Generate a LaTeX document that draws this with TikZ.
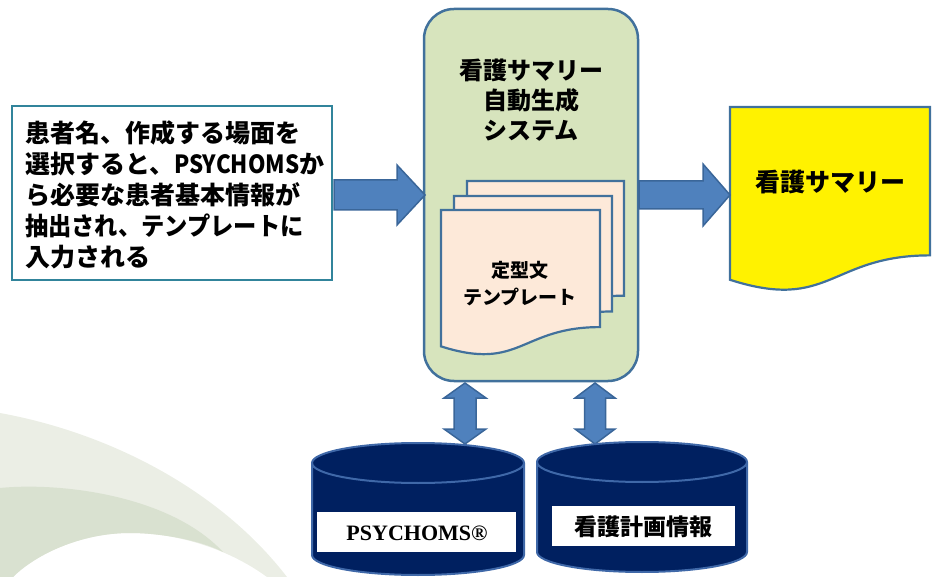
\documentclass[tikz,border=0pt]{standalone}
\usepackage{fontspec}
\usepackage{graphicx}
\newfontfamily\jp{Noto Sans CJK JP}
\newfontfamily\tms{Liberation Serif}
\definecolor{teal}{HTML}{31849B}
\definecolor{sysfill}{HTML}{D7E4BD}
\definecolor{bdr}{HTML}{41719C}
\definecolor{peach}{HTML}{FDE9D9}
\definecolor{arrfill}{HTML}{4F81BD}
\definecolor{arrdraw}{HTML}{3A6699}
\definecolor{navy}{HTML}{002060}
\definecolor{cylline}{HTML}{3F68A8}
\definecolor{bglight}{HTML}{EBEEE5}
\definecolor{bgdark}{HTML}{D9E1D0}
\tikzset{
  blockarrow/.style={fill=arrfill,draw=arrdraw,line width=1.5pt,line join=miter},
  docstyle/.style={draw=bdr,line width=2.2pt},
  cyl/.style={fill=navy,draw=cylline,line width=2pt},
  lbl/.style={fill=white,inner sep=0pt},
}
\newcommand{\docpath}[4]{(#1,#2) -- ({#1+#3},#2) -- ({#1+#3},{#2+0.802*#4}) .. controls ({#1+0.5*#3},{#2+0.802*#4}) and ({#1+0.5*#3},{#2+1.108*#4}) .. (#1,{#2+0.934*#4}) -- cycle}
\begin{document}
\begin{tikzpicture}[x=1pt,y=-1pt]
\useasboundingbox (0,0) rectangle (932,577);
% background swoosh
\fill[bglight] (0,413) .. controls (110,433) and (220,490) .. (287,577) -- (267,577)
  .. controls (230,550) and (180,533) .. (130,533) .. controls (80,533) and (35,555) .. (13,577) -- (0,577) -- cycle;
\fill[bgdark] (0,488) .. controls (60,482) and (170,495) .. (223,552)
  .. controls (200,540) and (160,533) .. (130,533) .. controls (80,533) and (35,555) .. (13,577) -- (0,577) -- cycle;

% input box
\node[draw=teal,line width=2.5pt,fill=white,minimum width=320pt,minimum height=174pt,inner sep=0pt] (in) at (172,193) {};
\node[align=left,font=\jp\bfseries\fontsize{25pt}{31pt}\selectfont,inner sep=0pt,anchor=west] (intext) at (25,195)
 {患者名、作成する場面を\\選択すると、\scalebox{0.89}[1]{PSYCHOMS}か\\ら必要な患者基本情報が\\\scalebox{0.93}[1]{抽出され、テンプレートに}\\入力される};

% system box
\node[draw=bdr,line width=2.5pt,fill=sysfill,rounded corners=30pt,minimum width=214pt,minimum height=372pt] (sys) at (531,195) {};
\node[align=center,font=\jp\bfseries\fontsize{24pt}{30pt}\selectfont,inner sep=0pt] (systitle) at (531,100)
 {看護サマリー\\自動生成\\システム};

% template stack
\filldraw[docstyle,fill=peach] \docpath{467}{181}{157}{143};
\filldraw[docstyle,fill=peach] \docpath{454}{196}{158}{144};
\filldraw[docstyle,fill=peach] \docpath{441}{210}{159}{146};
\node[align=center,font=\jp\bfseries\fontsize{19pt}{27pt}\selectfont,inner sep=0pt] (tmpl) at (520,284)
 {定型文\\テンプレート};

% output document
\filldraw[docstyle,fill=yellow] \docpath{730}{107}{200}{185};
\node[font=\jp\bfseries\fontsize{25pt}{30pt}\selectfont,inner sep=0pt] (out) at (830,182) {看護サマリー};

% horizontal block arrows
\filldraw[blockarrow] (334,180) -- (397,180) -- (397,165) -- (425,195) -- (397,225) -- (397,210) -- (334,210) -- cycle;
\filldraw[blockarrow] (639,181) -- (703,181) -- (703,164) -- (730,195) -- (703,226) -- (703,209) -- (639,209) -- cycle;

% vertical double arrows
\filldraw[blockarrow] (465,383) -- (486,398) -- (476,398) -- (476,429) -- (486,429) -- (465,444) -- (444,429) -- (454,429) -- (454,398) -- (444,398) -- cycle;
\filldraw[blockarrow] (595,383) -- (615,398) -- (605.5,398) -- (605.5,429) -- (615,429) -- (595,444) -- (575,429) -- (584.5,429) -- (584.5,398) -- (575,398) -- cycle;

% cylinders
\filldraw[cyl] (312,463) arc[start angle=180,end angle=0,x radius=106,y radius=-20] -- (524,555) arc[start angle=0,end angle=-180,x radius=106,y radius=-20] -- cycle;
\draw[cylline,line width=2pt] (312,463) arc[start angle=180,end angle=360,x radius=106,y radius=-20];
\filldraw[cyl] (537,462) arc[start angle=180,end angle=0,x radius=105,y radius=-20] -- (747,552) arc[start angle=0,end angle=-180,x radius=105,y radius=-20] -- cycle;
\draw[cylline,line width=2pt] (537,462) arc[start angle=180,end angle=360,x radius=105,y radius=-20];

\node[lbl,minimum width=199pt,minimum height=40pt] (db1) at (416.5,532) {};
\node[font=\tms\bfseries\fontsize{22pt}{26pt}\selectfont,inner sep=0pt] (db1t) at (417,533) {PSYCHOMS®};
\node[lbl,minimum width=183pt,minimum height=40pt] (db2) at (643.5,526) {};
\node[font=\jp\bfseries\fontsize{23pt}{28pt}\selectfont,inner sep=0pt] (db2t) at (643,527) {看護計画情報};
\end{tikzpicture}
\end{document}
